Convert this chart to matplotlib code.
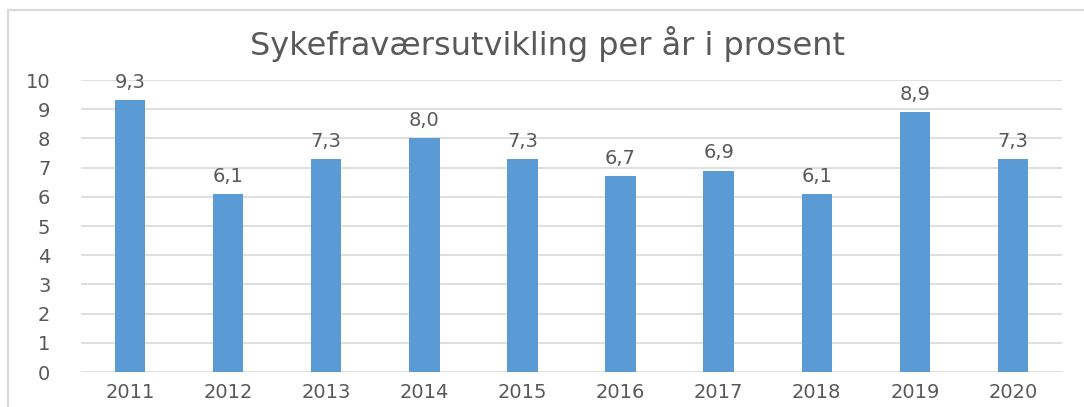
import matplotlib.pyplot as plt
from matplotlib.patches import Rectangle

# Data
aar = ["2011", "2012", "2013", "2014", "2015", "2016", "2017", "2018", "2019", "2020"]
sykefravaer = [9.3, 6.1, 7.3, 8.0, 7.3, 6.7, 6.9, 6.1, 8.9, 7.3]
y_ticks = [0, 1, 2, 3, 4, 5, 6, 7, 8, 9, 10]

bla = "#5B9BD5"
gra_tekst = "#595959"
gra_linje = "#D9D9D9"

fig = plt.figure(figsize=(10.84, 4.07), dpi=100)
ax = fig.add_axes([81 / 1084, 1 - 372 / 407, (1062 - 81) / 1084, (372 - 80) / 407])

# Ramme rundt diagrammet
fig.patches.append(Rectangle((8 / 1084, -0.05), 1.2, 1 - 10 / 407 + 0.05,
                             transform=fig.transFigure, fill=False,
                             edgecolor=gra_linje, linewidth=1.5))

x = range(len(aar))
bars = ax.bar(x, sykefravaer, width=0.31, color=bla, zorder=3)

for i, v in enumerate(sykefravaer):
    ax.annotate(f"{v:.1f}".replace(".", ","), (i, v), xytext=(0, 6),
                textcoords="offset points", ha="center", va="bottom",
                fontsize=14, color=gra_tekst)

ax.set_xlim(-0.5, len(aar) - 0.5)
ax.set_ylim(0, 10)
ax.set_yticks(y_ticks)
ax.set_xticks(list(x))
ax.set_xticklabels(aar)
ax.tick_params(length=0, labelsize=14, colors=gra_tekst)
ax.tick_params(axis="y", pad=22)
ax.tick_params(axis="x", pad=8)
ax.grid(True, axis="y", color=gra_linje, linewidth=1.2, zorder=0)
for s in ax.spines.values():
    s.set_visible(False)

fig.text(548 / 1084, 1 - 44 / 407, "Sykefraværsutvikling per år i prosent",
         ha="center", va="center", fontsize=23, color=gra_tekst)

fig.savefig("out.png", dpi=100)
